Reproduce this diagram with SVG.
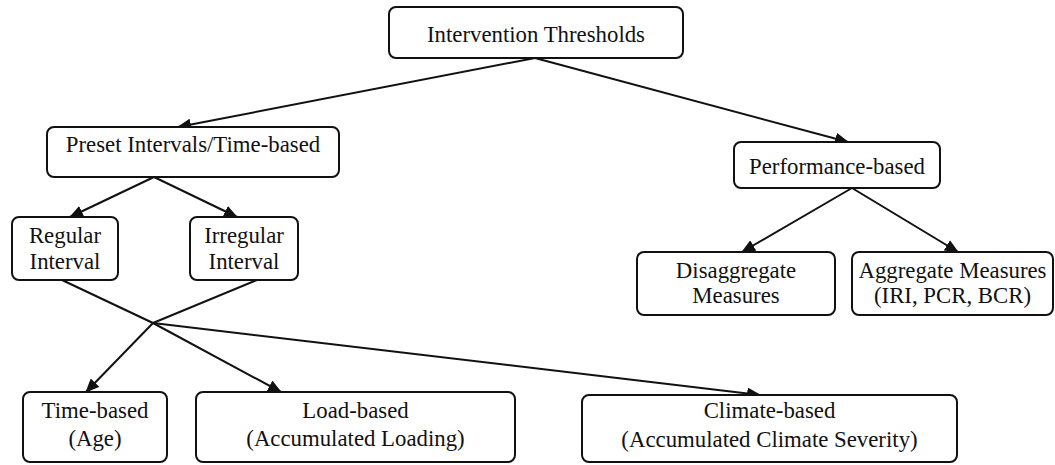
<svg xmlns="http://www.w3.org/2000/svg" width="1055" height="465" viewBox="0 0 1055 465">
  <style>
    .box { fill: #ffffff; stroke: #111111; stroke-width: 2; }
    .lbl { font-family: 'Liberation Serif', 'Times New Roman', serif; font-size: 22.8px; fill: #111111; text-anchor: middle; }
    .edge { fill: none; stroke: #111111; stroke-width: 2; }
    .arrow { marker-end: url(#head); }
  </style>
  <defs>
    <marker id="head" markerUnits="userSpaceOnUse" markerWidth="14" markerHeight="12" refX="13" refY="6" orient="auto">
      <path d="M0,0 L14,6 L0,12 z" fill="#111111"/>
    </marker>
  </defs>
  <rect width="1055" height="465" fill="#ffffff"/>

  <g id="connectors">
    <line class="edge arrow" x1="535" y1="58" x2="178" y2="127"/>
    <line class="edge arrow" x1="535" y1="58" x2="848" y2="142"/>
    <line class="edge arrow" x1="154" y1="177" x2="70" y2="217"/>
    <line class="edge arrow" x1="154" y1="177" x2="237" y2="217"/>
    <line class="edge arrow" x1="852" y1="188" x2="742" y2="252"/>
    <line class="edge arrow" x1="852" y1="188" x2="958" y2="252"/>
    <line class="edge" x1="62" y1="280" x2="153" y2="323"/>
    <line class="edge" x1="257" y1="280" x2="153" y2="323"/>
    <line class="edge arrow" x1="153" y1="323" x2="86" y2="392"/>
    <line class="edge arrow" x1="153" y1="323" x2="281" y2="392"/>
    <line class="edge arrow" x1="153" y1="323" x2="760" y2="395"/>
  </g>

  <g id="intervention-thresholds">
    <rect class="box" x="389" y="7" width="294" height="51" rx="7"/>
    <text class="lbl" x="536" y="42">Intervention Thresholds</text>
  </g>

  <g id="preset-intervals">
    <rect class="box" x="47" y="127" width="292" height="50" rx="7"/>
    <text class="lbl" x="193" y="152">Preset Intervals/Time-based</text>
  </g>

  <g id="performance-based">
    <rect class="box" x="734" y="142" width="206" height="46" rx="7"/>
    <text class="lbl" x="837" y="174">Performance-based</text>
  </g>

  <g id="regular-interval">
    <rect class="box" x="12" y="217" width="106" height="63" rx="7"/>
    <text class="lbl" x="65" y="243">Regular</text>
    <text class="lbl" x="65" y="269">Interval</text>
  </g>

  <g id="irregular-interval">
    <rect class="box" x="190" y="217" width="108" height="63" rx="7"/>
    <text class="lbl" x="244" y="243">Irregular</text>
    <text class="lbl" x="244" y="269">Interval</text>
  </g>

  <g id="disaggregate-measures">
    <rect class="box" x="637" y="252" width="198" height="63" rx="7"/>
    <text class="lbl" x="736" y="278">Disaggregate</text>
    <text class="lbl" x="736" y="303">Measures</text>
  </g>

  <g id="aggregate-measures">
    <rect class="box" x="852" y="252" width="201" height="63" rx="7"/>
    <text class="lbl" x="952.5" y="278">Aggregate Measures</text>
    <text class="lbl" x="952.5" y="303">(IRI, PCR, BCR)</text>
  </g>

  <g id="time-based">
    <rect class="box" x="23" y="392" width="144" height="70" rx="7"/>
    <text class="lbl" x="95" y="418">Time-based</text>
    <text class="lbl" x="95" y="446">(Age)</text>
  </g>

  <g id="load-based">
    <rect class="box" x="196" y="392" width="319" height="70" rx="7"/>
    <text class="lbl" x="355.5" y="418">Load-based</text>
    <text class="lbl" x="355.5" y="446">(Accumulated Loading)</text>
  </g>

  <g id="climate-based">
    <rect class="box" x="582" y="395" width="375" height="67" rx="7"/>
    <text class="lbl" x="769.5" y="418">Climate-based</text>
    <text class="lbl" x="769.5" y="447">(Accumulated Climate Severity)</text>
  </g>
</svg>
